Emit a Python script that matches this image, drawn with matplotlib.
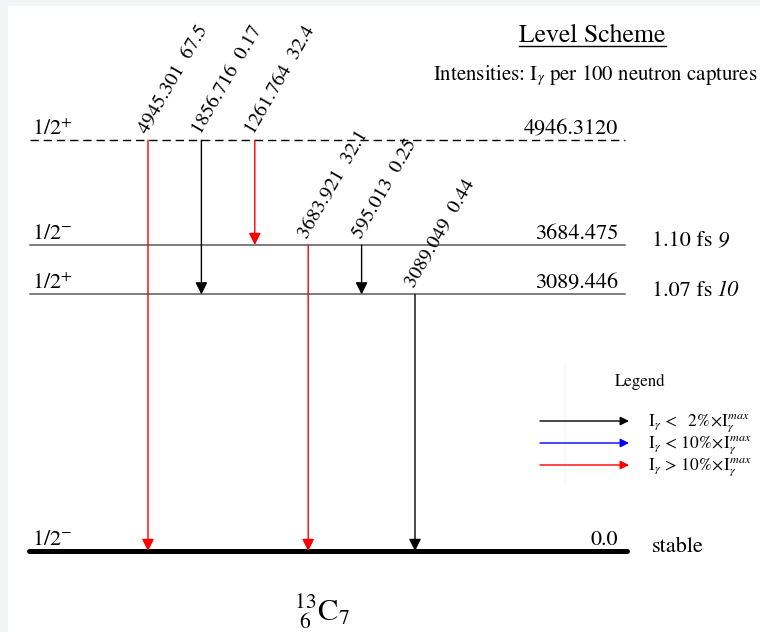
import matplotlib
matplotlib.use('Agg')
import matplotlib.pyplot as plt
from matplotlib.patches import Rectangle

plt.rcParams['font.family'] = ['STIXGeneral', 'DejaVu Serif']
plt.rcParams['mathtext.fontset'] = 'stix'

# levels of 13C (keV)
level_energy = [0.0, 3089.446, 3684.475, 4946.3120]
level_label = ['0.0', '3089.446', '3684.475', '4946.3120']
level_spin = [r'1/2$^{-}$', r'1/2$^{+}$', r'1/2$^{-}$', r'1/2$^{+}$']
level_halflife = ['stable', '1.07 fs', '1.10 fs', '']
level_halflife_unc = ['', '10', '9', '']

# gamma transitions: energy, intensity, initial level, final level
gamma_energy = [4945.301, 1856.716, 1261.764, 3683.921, 595.013, 3089.049]
gamma_intensity = [67.5, 0.17, 32.4, 32.1, 0.25, 0.44]
gamma_from = [3, 3, 3, 2, 2, 1]
gamma_to = [0, 1, 2, 0, 1, 0]

legend_colors = ['black', 'blue', 'red']
legend_labels = [r'$\mathrm{I}_\gamma\,<\;\;\,2\%\!\times\!\mathrm{I}_\gamma^{max}$',
                 r'$\mathrm{I}_\gamma\,<\,10\%\!\times\!\mathrm{I}_\gamma^{max}$',
                 r'$\mathrm{I}_\gamma\,>\,10\%\!\times\!\mathrm{I}_\gamma^{max}$']

# layout (pixels)
W, H = 760, 632
ground_px = 551
px_per_kev = 306 / 3684.475
line_x0, line_x1 = 30, 625
gamma_x0, gamma_dx = 148, 53.4


def color_for(i):
    imax = max(gamma_intensity)
    if i < 0.02 * imax:
        return 'black'
    if i < 0.10 * imax:
        return 'blue'
    return 'red'


fig = plt.figure(figsize=(W / 100, H / 100), dpi=100, facecolor='#f3f4f6')

# decorations in pixel coordinates (also carries the white page)
deco = fig.add_axes([0, 0, 1, 1])
deco.set_xlim(0, W)
deco.set_ylim(H, 0)
deco.axis('off')
deco.patch.set_alpha(0)
deco.add_patch(Rectangle((8, 6), W, H, facecolor='white', edgecolor='none', zorder=0))

ax = fig.add_axes([0, 0, 1, 1])
ax.set_xlim(0, W)
ax.set_ylim(-(H - ground_px) / px_per_kev, ground_px / px_per_kev)
ax.axis('off')
ax.patch.set_alpha(0)

# levels
for k, E in enumerate(level_energy):
    if k == 0:
        ax.plot([line_x0 - 1, line_x1 + 2], [E, E], color='black', lw=3.6,
                solid_capstyle='round', zorder=2)
    elif k == len(level_energy) - 1:
        ax.plot([line_x0, line_x1], [E, E], color='black', lw=1.0,
                dashes=(6, 3.5), zorder=2)
    else:
        ax.plot([line_x0, line_x1], [E, E], color='#5a5a5a', lw=1.1, zorder=2)
    ax.annotate(level_spin[k], xy=(line_x0 + 2, E), xytext=(0, 0.5),
                textcoords='offset points', ha='left', va='bottom', fontsize=16)
    ax.annotate(level_label[k], xy=(line_x1 - 7, E), xytext=(0, 0.5),
                textcoords='offset points', ha='right', va='bottom', fontsize=16)
    if level_halflife[k]:
        t = ax.annotate(level_halflife[k], xy=(652, E), xytext=(0, 2.5),
                        textcoords='offset points', ha='left', va='center', fontsize=16)
        if level_halflife_unc[k]:
            ax.annotate(level_halflife_unc[k], xy=(1, 0), xycoords=t, xytext=(3.5, 0),
                        textcoords='offset points', ha='left', va='bottom',
                        fontsize=16, style='italic')

# gamma arrows
for j in range(len(gamma_energy)):
    x = gamma_x0 + j * gamma_dx
    E_hi = level_energy[gamma_from[j]]
    E_lo = level_energy[gamma_to[j]]
    c = color_for(gamma_intensity[j])
    ax.annotate('', xy=(x, E_lo), xytext=(x, E_hi),
                arrowprops=dict(arrowstyle='-|>', color=c, lw=1.0,
                                mutation_scale=18, shrinkA=0, shrinkB=0),
                zorder=3)
    ax.annotate(f'{gamma_energy[j]:.3f}  {gamma_intensity[j]}', xy=(x, E_hi),
                xytext=(2, 2.5), textcoords='offset points', rotation=60,
                rotation_mode='anchor', ha='left', va='bottom', fontsize=14.6)

deco.text(592, 42, 'Level Scheme', ha='center', va='baseline', fontsize=18.5)
deco.plot([519, 666], [46, 46], color='black', lw=1.0)
deco.text(757, 80, r'Intensities: I$_\gamma$ per 100 neutron captures',
          ha='right', va='baseline', fontsize=15)

deco.plot([565, 565], [365, 482], color='#f8f8f8', lw=1.5)
deco.text(640, 386, 'Legend', ha='center', va='baseline', fontsize=12.2)
for k in range(3):
    y = 421 + 22 * k
    deco.annotate('', xy=(629, y), xytext=(540, y),
                  arrowprops=dict(arrowstyle='-|>', color=legend_colors[k], lw=1.0,
                                  mutation_scale=13, shrinkA=0, shrinkB=0))
    deco.text(648, y + 5, legend_labels[k], ha='left', va='baseline', fontsize=12.5)

deco.text(322, 612, r'${}^{13}_{\ 6}\mathrm{C}_{7}$', ha='center', va='center',
          fontsize=22)

fig.savefig('out.png', dpi=100, facecolor=fig.get_facecolor())
